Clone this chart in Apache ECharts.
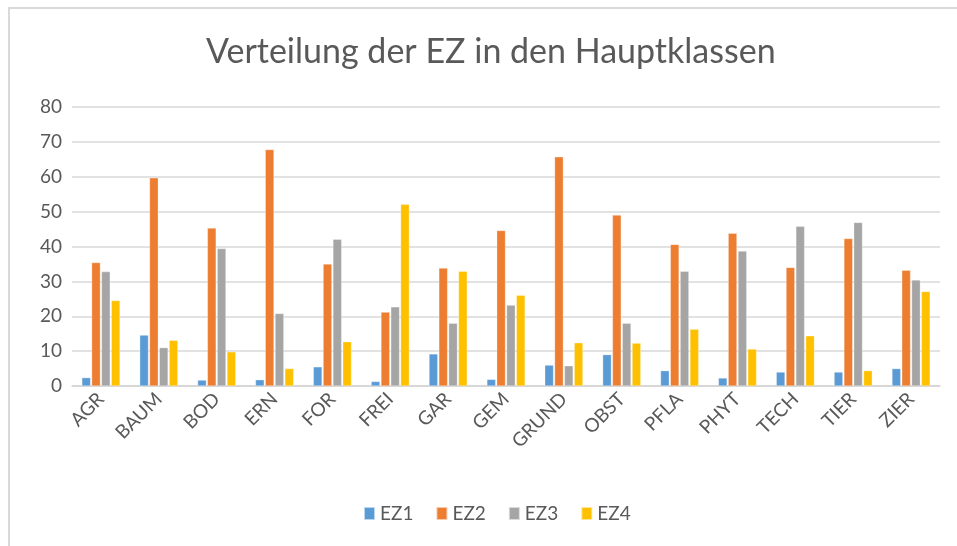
<!DOCTYPE html>
<html>
<head>
<meta charset="utf-8">
<script src="https://cdn.jsdelivr.net/npm/echarts@6/dist/echarts.min.js"></script>
<style>
  html, body { margin: 0; padding: 0; background: #fff; }
  #wrap { position: relative; width: 957px; height: 546px; }
  #chart { width: 957px; height: 546px; }
  #frame { position: absolute; left: 8px; top: 7px; right: 0; bottom: 0;
           border-top: 2px solid #d9d9d9; border-left: 2px solid #d9d9d9; pointer-events: none; }
</style>
</head>
<body>
<div id="wrap">
  <div id="chart"></div>
  <div id="frame"></div>
</div>
<script>
// Hauptklassen
const categories = ['AGR', 'BAUM', 'BOD', 'ERN', 'FOR', 'FREI', 'GAR', 'GEM', 'GRUND', 'OBST', 'PFLA', 'PHYT', 'TECH', 'TIER', 'ZIER'];

// Werte je EZ
const ez1 = [2.4, 14.6, 1.7, 1.8, 5.5, 1.3, 9.2, 1.9, 6.0, 9.0, 4.4, 2.3, 4.0, 4.0, 5.0];
const ez2 = [35.4, 59.7, 45.3, 67.8, 35.0, 21.2, 33.8, 44.6, 65.7, 49.0, 40.6, 43.8, 34.0, 42.3, 33.2];
const ez3 = [32.8, 11.0, 39.4, 20.8, 42.1, 22.7, 18.0, 23.2, 5.8, 18.0, 32.9, 38.7, 45.8, 46.9, 30.4];
const ez4 = [24.5, 13.1, 9.8, 5.0, 12.7, 52.1, 32.9, 26.0, 12.4, 12.3, 16.3, 10.6, 14.4, 4.4, 27.1];

const seriesNames = ['EZ1', 'EZ2', 'EZ3', 'EZ4'];
const colors = ['#5B9BD5', '#ED7D31', '#A5A5A5', '#FFC000'];

const font = 'Lato, "Open Sans", sans-serif';
const textColor = '#595959';

const chart = echarts.init(document.getElementById('chart'));

const option = {
  animation: false,
  color: colors,
  title: {
    text: 'Verteilung der EZ in den Hauptklassen',
    left: 201,
    top: 30,
    textStyle: { fontFamily: font, fontSize: 34, fontWeight: 'normal', color: textColor }
  },
  legend: {
    data: seriesNames,
    bottom: 18,
    left: 358,
    itemWidth: 11,
    itemHeight: 13,
    itemGap: 22,
    icon: 'rect',
    textStyle: { fontFamily: font, fontSize: 19, color: textColor }
  },
  grid: { left: 72, right: 17, top: 107, bottom: 160 },
  xAxis: {
    type: 'category',
    data: categories,
    axisLine: { lineStyle: { color: '#d4d4d4', width: 1.5 } },
    axisTick: { show: false },
    axisLabel: { rotate: 45, margin: 10, fontFamily: font, fontSize: 19, color: textColor, interval: 0 }
  },
  yAxis: {
    type: 'value',
    min: 0,
    max: 80,
    interval: 10,
    axisLine: { show: false },
    axisTick: { show: false },
    axisLabel: { margin: 10, fontFamily: font, fontSize: 19, color: textColor },
    splitLine: { lineStyle: { color: '#d9d9d9', width: 1.5 } }
  },
  series: [ez1, ez2, ez3, ez4].map((d, i) => ({
    name: seriesNames[i],
    type: 'bar',
    data: d,
    barGap: '12%',
    barCategoryGap: '34%',
    itemStyle: { borderColor: 'rgba(255,255,255,0.6)', borderWidth: 0.5 }
  }))
};

chart.setOption(option);
</script>
</body>
</html>
